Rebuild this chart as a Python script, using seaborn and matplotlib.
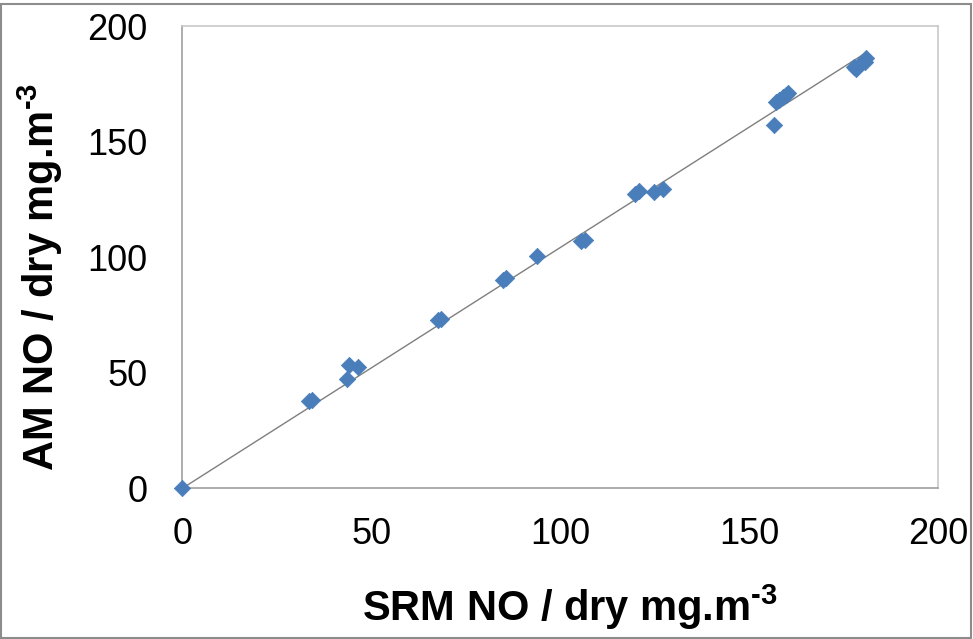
import numpy as np
import pandas as pd
import seaborn as sns
import matplotlib.pyplot as plt
from matplotlib.patches import Rectangle

# data
srm_no = [0, 33.6, 34.2, 43.7, 44.2, 46.6, 67.6, 68.4, 84.9, 85.8, 94.0,
          105.6, 106.6, 119.8, 120.8, 125.0, 127.2, 156.6, 157.1, 158.0,
          159.0, 159.8, 160.4, 177.8, 178.4, 179.0, 180.8, 181.0]
am_no = [0, 37.8, 38.2, 47.4, 53.5, 52.6, 72.8, 73.3, 90.4, 91.2, 100.6,
         107.2, 107.6, 127.5, 128.5, 128.2, 129.6, 157.4, 167.3, 168.2,
         169.2, 170.2, 171.0, 182.6, 181.5, 183.0, 184.5, 186.2]
ticks = [0, 50, 100, 150, 200]

df = pd.DataFrame({"srm": srm_no, "am": am_no})

sns.set_style("white")
plt.rcParams['font.family'] = ['Liberation Sans', 'DejaVu Sans']
plt.rcParams['mathtext.fontset'] = 'custom'
plt.rcParams['mathtext.rm'] = 'Liberation Sans:bold'
plt.rcParams['mathtext.bf'] = 'Liberation Sans:bold'
plt.rcParams['text.color'] = 'black'
plt.rcParams['axes.labelcolor'] = 'black'

fig = plt.figure(figsize=(9.73, 6.39), dpi=100)
ax = fig.add_axes([0.1874, 0.2358, 0.7764, 0.723])

# linear trendline through the origin
k = np.sum(df["srm"] * df["am"]) / np.sum(df["srm"] ** 2)
xl = np.array([df["srm"].min(), df["srm"].max()])
ax.plot(xl, k * xl, color="#7f7f7f", lw=1, zorder=1)

sns.scatterplot(data=df, x="srm", y="am", marker="D", s=70, color="#4a7ebb",
                edgecolor="#4a7ebb", linewidth=0.5, ax=ax, zorder=3,
                clip_on=False)

ax.set_xlim(0, 200)
ax.set_ylim(0, 200)
ax.set_xticks(ticks)
ax.set_yticks(ticks)
ax.tick_params(axis="both", labelsize=26, direction="out", length=8,
               width=1, color="#a0a0a0", labelcolor="black")
ax.tick_params(axis="x", pad=13)
ax.tick_params(axis="y", pad=17)

for side in ["left", "bottom"]:
    ax.spines[side].set_color("#a0a0a0")
    ax.spines[side].set_linewidth(1.2)
for side in ["top", "right"]:
    ax.spines[side].set_color("#c8c8c8")
    ax.spines[side].set_linewidth(1.2)

ax.set_xlabel(r"SRM NO / dry mg.m$^{\text{-3}}$", fontsize=30, fontweight="bold")
ax.set_ylabel(r"AM NO / dry mg.m$^{\text{-3}}$", fontsize=30, fontweight="bold")
ax.xaxis.set_label_coords(0.513, -0.205)
ax.yaxis.set_label_coords(-0.155, 0.457)

fig.patches.append(Rectangle((0.001, 0.002), 0.997, 0.991, transform=fig.transFigure,
                             fill=False, edgecolor="#8c8c8c", lw=1.5))

fig.savefig("out.png", dpi=100)
